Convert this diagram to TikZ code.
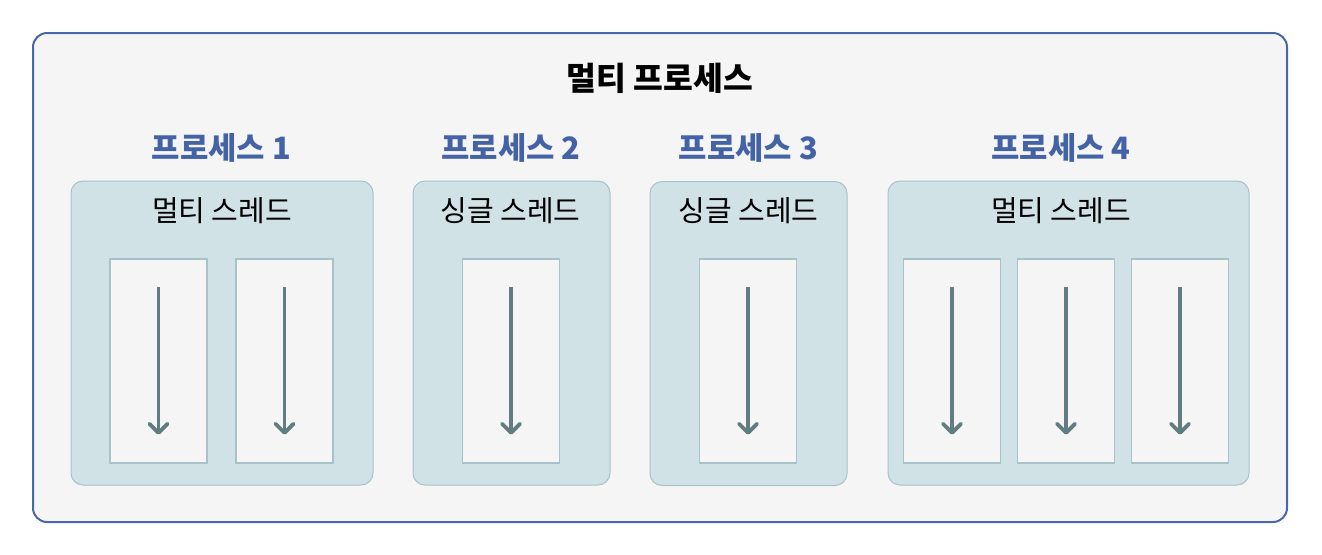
\documentclass[tikz,border=0pt]{standalone}
\usepackage{fontspec}
\setmainfont{Noto Sans CJK KR}
\usetikzlibrary{arrows.meta}
\definecolor{outerblue}{HTML}{4A67A8}
\definecolor{labelblue}{HTML}{4463A6}
\definecolor{bgray}{HTML}{F5F5F5}
\definecolor{procfill}{HTML}{D1E2E7}
\definecolor{procline}{HTML}{A7C2C9}
\definecolor{arrowgray}{HTML}{627D82}
\tikzset{
	procbox/.style={rectangle,rounded corners=6pt,draw=procline,fill=procfill,line width=0.5pt,minimum width=#1,minimum height=152pt},
	threadbox/.style={rectangle,draw=procline,fill=bgray,line width=0.7pt,minimum width=48.5pt,minimum height=102pt},
	proclabel/.style={text=labelblue,font=\fontsize{15.4}{17}\selectfont\bfseries},
	boxlabel/.style={font=\fontsize{14.5}{16}\selectfont},
	thread/.style={draw=arrowgray,line width=1.9pt,-{Straight Barb[length=4.5pt,width=9pt,round]},shorten <=14.5pt,shorten >=14.5pt}
}
\begin{document}
\begin{tikzpicture}[x=0.5pt,y=-0.5pt]
			\useasboundingbox (0,0) rectangle (1322,554);
			%outer box
			\node [rectangle,rounded corners=7pt,draw=outerblue,fill=bgray,line width=1pt,minimum width=627pt,minimum height=244.5pt] (multi) at (660,277.5) {};
			\node [font=\fontsize{16.2}{18}\selectfont\bfseries] (title) at (660,78) {멀티 프로세스};

			%process labels
			\node [proclabel] (l1) at (221.5,148) {프로세스 1};
			\node [proclabel] (l2) at (511,148) {프로세스 2};
			\node [proclabel] (l3) at (748.5,148) {프로세스 3};
			\node [proclabel] (l4) at (1061,148) {프로세스 4};

			%process boxes
			\node [procbox=151pt] (p1) at (222,333) {};
			\node [procbox=98.5pt] (p2) at (511.5,333) {};
			\node [procbox=98.5pt] (p3) at (748.5,333.5) {};
			\node [procbox=180.5pt] (p4) at (1068.5,333) {};

			\node [boxlabel] (b1) at (222,211) {멀티 스레드};
			\node [boxlabel] (b2) at (510.5,211) {싱글 스레드};
			\node [boxlabel] (b3) at (748.5,211) {싱글 스레드};
			\node [boxlabel] (b4) at (1061,211) {멀티 스레드};

			%thread boxes
			\node [threadbox] (t11) at (158.5,361) {};
			\node [threadbox] (t12) at (284.5,361) {};
			\node [threadbox] (t21) at (511,361) {};
			\node [threadbox] (t31) at (748,361) {};
			\node [threadbox] (t41) at (952,361) {};
			\node [threadbox] (t42) at (1066,361) {};
			\node [threadbox] (t43) at (1180,361) {};

			%threads
			\foreach \t in {t11,t12,t21,t31,t41,t42,t43}
				\draw [thread] (\t.north) -- (\t.south);
		\end{tikzpicture}
\end{document}
